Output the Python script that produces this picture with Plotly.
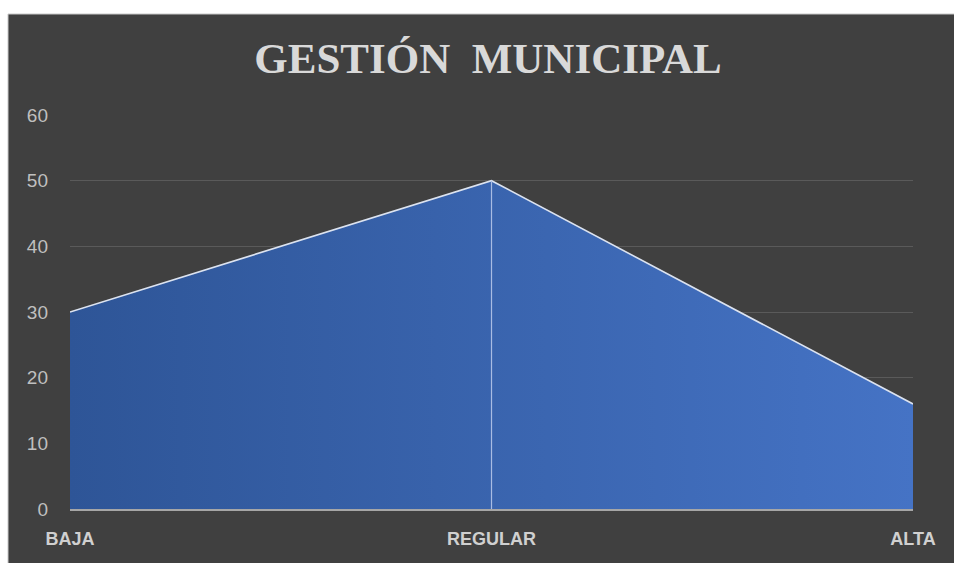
import plotly.graph_objects as go

categories = ["BAJA", "REGULAR", "ALTA"]
values = [30, 50, 16]
y_ticks = [0, 10, 20, 30, 40, 50, 60]
title_text = "GESTIÓN\u00a0\u00a0MUNICIPAL"

W, H = 954, 563
L, R, T, B = 70, 41, 115, 54
pw, ph = W - L - R, H - T - B

fig = go.Figure()

fig.add_trace(go.Scatter(
    x=categories, y=values, mode="lines",
    fill="tozeroy",
    fillgradient=dict(type="horizontal",
                      colorscale=[[0, "#2E5597"], [1, "#4573C5"]]),
    line=dict(color="#DCE3F0", width=1.6),
    hoverinfo="skip", showlegend=False,
))

# drop line at the peak category
fig.add_trace(go.Scatter(
    x=[categories[1], categories[1]], y=[0, values[1]], mode="lines",
    line=dict(color="#A9BCE3", width=1.2),
    hoverinfo="skip", showlegend=False,
))

# dark chart background with thin white strips at top and left
x0 = (8 - L) / pw
x1 = (W + 5 - L) / pw
y1 = 1 + (T - 14) / ph
y0 = -(B + 5) / ph
fig.add_shape(type="rect", xref="paper", yref="paper",
              x0=x0, x1=x1, y0=y0, y1=y1,
              fillcolor="#404040", line=dict(color="#C8C8C8", width=1),
              layer="below")

fig.update_layout(
    width=W, height=H,
    margin=dict(l=L, r=R, t=T, b=B),
    paper_bgcolor="white",
    plot_bgcolor="rgba(0,0,0,0)",
    title=dict(text="<b>" + title_text + "</b>",
               font=dict(family="Liberation Serif", size=43, color="#D9D9D9"),
               x=488 / W, xanchor="center", xref="container",
               y=1 - 58 / H, yanchor="middle"),
    xaxis=dict(
        type="category", range=[0, 2],
        showgrid=False, zeroline=False,
        showline=True, linecolor="#A6A6A6", linewidth=1.5,
        ticks="", ticklabelstandoff=13,
        tickfont=dict(family="Liberation Sans", size=18, color="#D0D0D0",
                      weight="bold"),
    ),
    yaxis=dict(
        range=[0, 60], tickvals=y_ticks,
        showgrid=True, gridcolor="#5A5A5A", gridwidth=1,
        zeroline=False, showline=False,
        ticks="", ticklabelstandoff=21,
        tickfont=dict(family="Liberation Sans", size=19, color="#BFBFBF"),
    ),
)

fig.write_html("out.html",
               config={"displayModeBar": False},
               post_script="document.body.style.margin='0';"
                           "document.body.style.overflow='hidden';")
